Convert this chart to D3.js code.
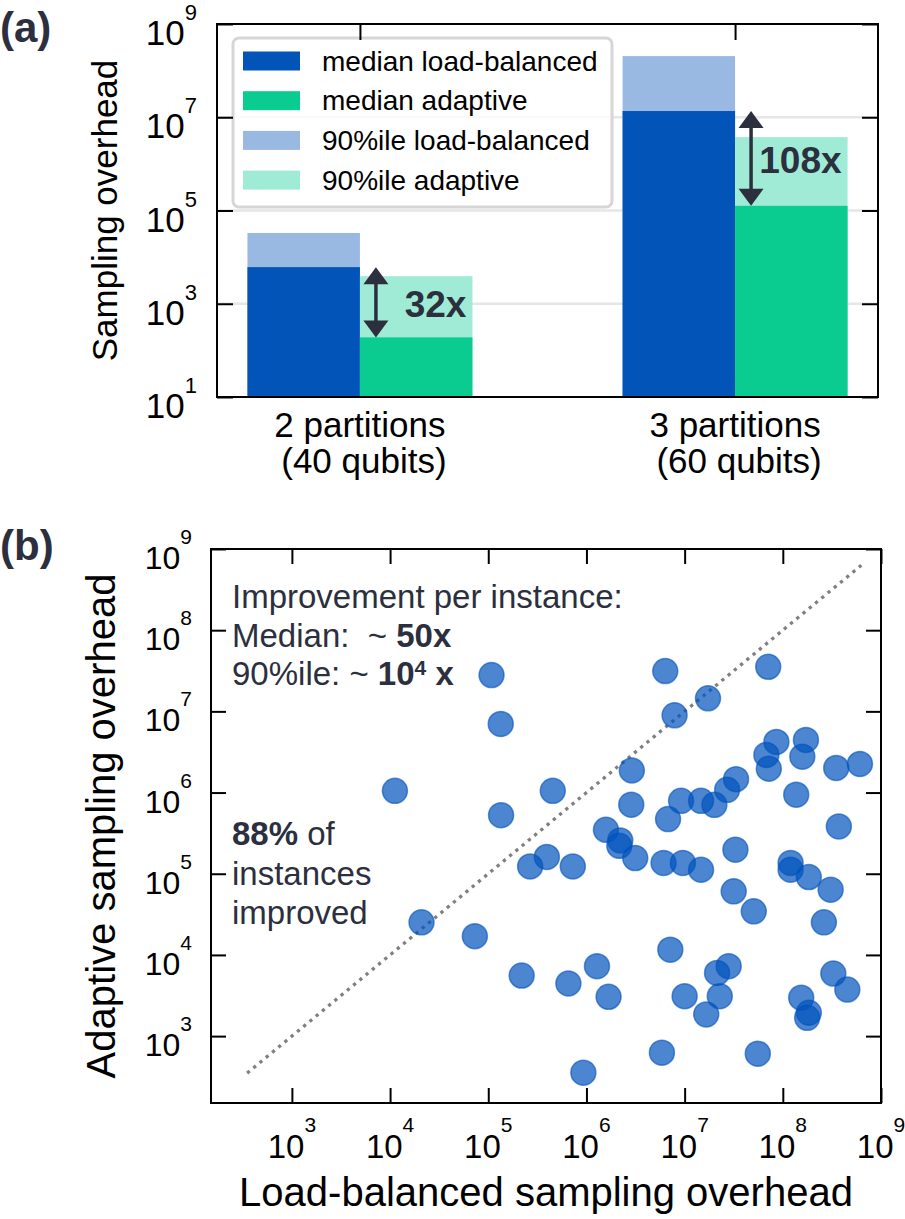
<!DOCTYPE html>
<html>
<head>
<meta charset="utf-8">
<script src="https://cdn.jsdelivr.net/npm/d3@7"></script>
<style>
  body { margin: 0; background: #fff; }
  svg text { font-family: "Liberation Sans", Arial, Helvetica, sans-serif; }
</style>
</head>
<body>
<svg id="chart" width="905" height="1219"></svg>
<script>
// ---- panel (a) data ----
var groups = ["2 partitions", "3 partitions"];
var groupQubits = ["(40 qubits)", "(60 qubits)"];
var medianLoadBalanced = [6100, 1.36e7];
var medianAdaptive = [190, 1.26e5];
var p90LoadBalanced = [3.3e4, 2.05e8];
var p90Adaptive = [3.9e3, 3.75e6];
var improvement = ["32x", "108x"];
var yExpA = [1, 3, 5, 7, 9];
var legendLabels = ["median load-balanced", "median adaptive", "90%ile load-balanced", "90%ile adaptive"];

// ---- panel (b) data ----
var loadBalanced = [1.12e4, 2.09e4, 7.3e4, 1.08e5, 1.34e5, 1.35e5, 6.35e6, 7.1e7, 1.73e7, 7.9e6,
  8.6e7, 1.72e8, 6.8e7, 1.58e8, 7.2e7, 3.5e8, 6.1e8, 2.9e6, 4.54e5, 3.34e7,
  2.71e7, 1.37e8, 2.86e6, 9.2e6, 1.47e7, 2.01e7, 6.78e6, 3.72e8, 1.58e6, 2.21e6,
  2.16e6, 3.29e7, 3.95e5, 2.67e5, 7.26e5, 3.14e6, 6.1e6, 9.6e6, 1.47e7, 1.2e8,
  1.2e8, 1.84e8, 3.07e8, 3.16e7, 5.06e7, 2.62e8, 7.15e6, 2.19e5, 6.55e5, 1.28e6,
  1.68e6, 1e7, 2.14e7, 2.81e7, 2.28e7, 1.66e7, 3.27e8, 4.54e8, 1.54e8, 1.84e8,
  1.77e8, 5.87e6, 5.56e7, 9.3e5];
var adaptive = [1.05e6, 2.52e4, 1.7e4, 2.8e7, 7.0e6, 5.27e5, 3.14e7, 3.54e7, 1.45e7, 8.95e6,
  4.2e6, 4.45e6, 2.91e6, 2.77e6, 1.97e6, 2.01e6, 2.25e6, 1.87e6, 1.05e6, 1.46e6,
  1.08e6, 9.4e5, 7.1e5, 7.9e5, 7.9e5, 7.06e5, 4.71e5, 3.82e5, 3.48e5, 2.57e5,
  2.21e5, 1.98e5, 1.61e5, 1.23e5, 1.23e5, 1.56e5, 1.36e5, 1.36e5, 1.12e5, 1.36e5,
  1.12e5, 9.1e4, 6.37e4, 6.07e4, 3.44e4, 2.52e4, 1.16e4, 5.57e3, 4.45e3, 7.26e3,
  3.05e3, 3.1e3, 6.0e3, 7.26e3, 3.1e3, 1.85e3, 5.9e3, 3.75e3, 2.97e3, 1.94e3,
  1.68e3, 625, 608, 355];
var diagonal = [350, 6.3e8];
var expB = [3, 4, 5, 6, 7, 8, 9];

var colBlue = "#0354b8", colGreen = "#0acb90", colBlueLight = "#9ab9e2", colGreenLight = "#a0ebd5";
var dark = "#2b2f3e";

var svg = d3.select("#chart");

// superscript tick label "10^n"
function powLabel(g, exp, size, supSize, supDy) {
  g.append("tspan").attr("font-size", size).text("10");
  g.append("tspan").attr("font-size", supSize).attr("dy", -supDy).text(exp);
}
function inward(g) { g.select(".domain").remove(); g.selectAll("line").attr("stroke", "#000").attr("stroke-width", 2); }

// ================= panel (a) =================
var aLeft = 217, aRight = 878, aTop = 24, aBottom = 397;
var xA = d3.scalePoint().domain(groups).range([aLeft, aRight]).padding(0.381);
var yA = d3.scaleLog().domain([10, 1e9]).range([aBottom, aTop]);
var bw = 112.5;

var a = svg.append("g");

// gridlines
a.selectAll(".grid").data([3, 5, 7]).enter().append("line")
  .attr("x1", aLeft).attr("x2", aRight)
  .attr("y1", function (d) { return yA(Math.pow(10, d)); })
  .attr("y2", function (d) { return yA(Math.pow(10, d)); })
  .attr("stroke", "#e6e6e6").attr("stroke-width", 2.5);

// bottom ticks (under the bars)
a.append("g").attr("transform", "translate(0," + aBottom + ")")
  .call(d3.axisBottom(xA).tickSize(-16).tickFormat("")).call(inward);

function bars(values, color, offset) {
  a.selectAll(null).data(values).enter().append("rect")
    .attr("x", function (d, i) { return xA(groups[i]) + offset; })
    .attr("width", bw)
    .attr("y", function (d) { return yA(d); })
    .attr("height", function (d) { return aBottom - yA(d); })
    .attr("fill", color);
}
bars(p90LoadBalanced, colBlueLight, -bw);
bars(medianLoadBalanced, colBlue, -bw);
bars(p90Adaptive, colGreenLight, 0);
bars(medianAdaptive, colGreen, 0);

// arrows + improvement labels
groups.forEach(function (gname, i) {
  var ax = xA(gname) + 16;
  var y1 = yA(medianLoadBalanced[i]), y2 = yA(medianAdaptive[i]);
  a.append("line").attr("x1", ax).attr("x2", ax).attr("y1", y1 + 10).attr("y2", y2 - 10)
    .attr("stroke", dark).attr("stroke-width", 3.5);
  a.append("path").attr("d", "M" + ax + "," + y1 + "l-12.5,17h25z").attr("fill", dark);
  a.append("path").attr("d", "M" + ax + "," + y2 + "l-12.5,-17h25z").attr("fill", dark);
  a.append("text").attr("x", xA(gname) + bw - 6).attr("y", (y1 + y2) / 2 + 15)
    .attr("text-anchor", "end").attr("font-size", 37).attr("font-weight", "bold")
    .attr("fill", dark).text(improvement[i]);
});

// legend
var lg = a.append("g");
lg.append("rect").attr("x", 233).attr("y", 38).attr("width", 379).attr("height", 169)
  .attr("rx", 6).attr("fill", "#fff").attr("fill-opacity", 0.8)
  .attr("stroke", "#d6d6d6").attr("stroke-width", 3);
var legendCols = [colBlue, colGreen, colBlueLight, colGreenLight];
legendLabels.forEach(function (t, i) {
  var cy = 61 + i * 39.7;
  lg.append("rect").attr("x", 243).attr("y", cy - 9.5).attr("width", 57).attr("height", 19).attr("fill", legendCols[i]);
  lg.append("text").attr("x", 322).attr("y", cy + 9.5).attr("font-size", 28).attr("fill", "#000").text(t);
});

// frame and inward ticks
a.append("rect").attr("x", aLeft).attr("y", aTop).attr("width", aRight - aLeft).attr("height", aBottom - aTop)
  .attr("fill", "none").attr("stroke", "#000").attr("stroke-width", 2);
var tA = yExpA.map(function (e) { return Math.pow(10, e); });
a.append("g").attr("transform", "translate(" + aLeft + ",0)")
  .call(d3.axisLeft(yA).tickValues(tA).tickSize(-16).tickFormat("")).call(inward);
a.append("g").attr("transform", "translate(" + aRight + ",0)")
  .call(d3.axisRight(yA).tickValues(tA).tickSize(-16).tickFormat("")).call(inward);
a.append("g").attr("transform", "translate(0," + aTop + ")")
  .call(d3.axisTop(xA).tickSize(-16).tickFormat("")).call(inward);

// y tick labels
yExpA.forEach(function (e) {
  var t = a.append("text").attr("x", 197).attr("y", yA(Math.pow(10, e)) + 21)
    .attr("text-anchor", "end").attr("fill", "#000");
  powLabel(t, e, 35, 22, 25);
});

// category labels
groups.forEach(function (gname, i) {
  a.append("text").attr("x", xA(gname)).attr("y", 437).attr("text-anchor", "middle")
    .attr("font-size", 35).text(gname);
  a.append("text").attr("x", xA(gname) + 4).attr("y", 473).attr("text-anchor", "middle")
    .attr("font-size", 35).text(groupQubits[i]);
});

a.append("text").attr("transform", "translate(117," + ((aTop + aBottom) / 2) + ") rotate(-90)")
  .attr("text-anchor", "middle").attr("font-size", 35).text("Sampling overhead");

svg.append("text").attr("x", 0).attr("y", 42).attr("font-size", 42).attr("font-weight", "bold")
  .attr("fill", dark).text("(a)");

// ================= panel (b) =================
var bl = 211, br = 881, bt = 549, bb = 1103;
var xB = d3.scaleLog().domain([150, 1e9]).range([bl, br]);
var yB = d3.scaleLog().domain([150, 1e9]).range([bb, bt]);
var b = svg.append("g");

// y = x reference line
b.append("path")
  .attr("d", d3.line().x(function (d) { return xB(d); }).y(function (d) { return yB(d); })(diagonal))
  .attr("stroke", "#808080").attr("stroke-width", 3.3).attr("stroke-dasharray", "3.3,4.8")
  .attr("fill", "none");

b.selectAll(".pt").data(loadBalanced).enter().append("circle")
  .attr("cx", function (d) { return xB(d); })
  .attr("cy", function (d, i) { return yB(adaptive[i]); })
  .attr("r", 12.5)
  .attr("fill", "#0052bd").attr("fill-opacity", 0.7)
  .attr("stroke", "#0052bd").attr("stroke-opacity", 0.6).attr("stroke-width", 1.5);

b.append("rect").attr("x", bl).attr("y", bt).attr("width", br - bl).attr("height", bb - bt)
  .attr("fill", "none").attr("stroke", "#000").attr("stroke-width", 2);
var tB = expB.map(function (e) { return Math.pow(10, e); });
b.append("g").attr("transform", "translate(" + bl + ",0)")
  .call(d3.axisLeft(yB).tickValues(tB).tickSize(-15).tickFormat("")).call(inward);
b.append("g").attr("transform", "translate(" + br + ",0)")
  .call(d3.axisRight(yB).tickValues(tB).tickSize(-15).tickFormat("")).call(inward);
b.append("g").attr("transform", "translate(0," + bb + ")")
  .call(d3.axisBottom(xB).tickValues(tB).tickSize(-15).tickFormat("")).call(inward);
b.append("g").attr("transform", "translate(0," + bt + ")")
  .call(d3.axisTop(xB).tickValues(tB).tickSize(-15).tickFormat("")).call(inward);

expB.forEach(function (e) {
  var ty = b.append("text").attr("x", 192).attr("y", yB(Math.pow(10, e)) + 20)
    .attr("text-anchor", "end");
  powLabel(ty, e, 32, 21, 25);
  var tx = b.append("text").attr("x", xB(Math.pow(10, e))).attr("y", 1158)
    .attr("text-anchor", "middle");
  powLabel(tx, e, 33, 21, 26);
});

b.append("text").attr("x", (bl + br) / 2).attr("y", 1206).attr("text-anchor", "middle")
  .attr("font-size", 40).text("Load-balanced sampling overhead");
b.append("text").attr("transform", "translate(115," + ((bt + bb) / 2) + ") rotate(-90)")
  .attr("text-anchor", "middle").attr("font-size", 40).text("Adaptive sampling overhead");

// annotations
var ann = b.append("g").attr("fill", dark).attr("font-size", 33);
ann.append("text").attr("x", 232).attr("y", 608).text("Improvement per instance:");
var m = ann.append("text").attr("x", 232).attr("y", 647).attr("xml:space", "preserve");
m.append("tspan").text("Median:  ~ ");
m.append("tspan").attr("font-weight", "bold").text("50x");
var p = ann.append("text").attr("x", 232).attr("y", 685).attr("xml:space", "preserve");
p.append("tspan").text("90%ile: ~ ");
p.append("tspan").attr("font-weight", "bold").text("10");
p.append("tspan").attr("font-weight", "bold").attr("font-size", 21).attr("dy", -10).text("4");
p.append("tspan").attr("font-weight", "bold").attr("dy", 10).text(" x");
var q = ann.append("text").attr("x", 232).attr("y", 845);
q.append("tspan").attr("font-weight", "bold").text("88%");
q.append("tspan").text(" of");
ann.append("text").attr("x", 232).attr("y", 885).text("instances");
ann.append("text").attr("x", 232).attr("y", 924).text("improved");

svg.append("text").attr("x", 0).attr("y", 560).attr("font-size", 42).attr("font-weight", "bold")
  .attr("fill", dark).text("(b)");
</script>
</body>
</html>
